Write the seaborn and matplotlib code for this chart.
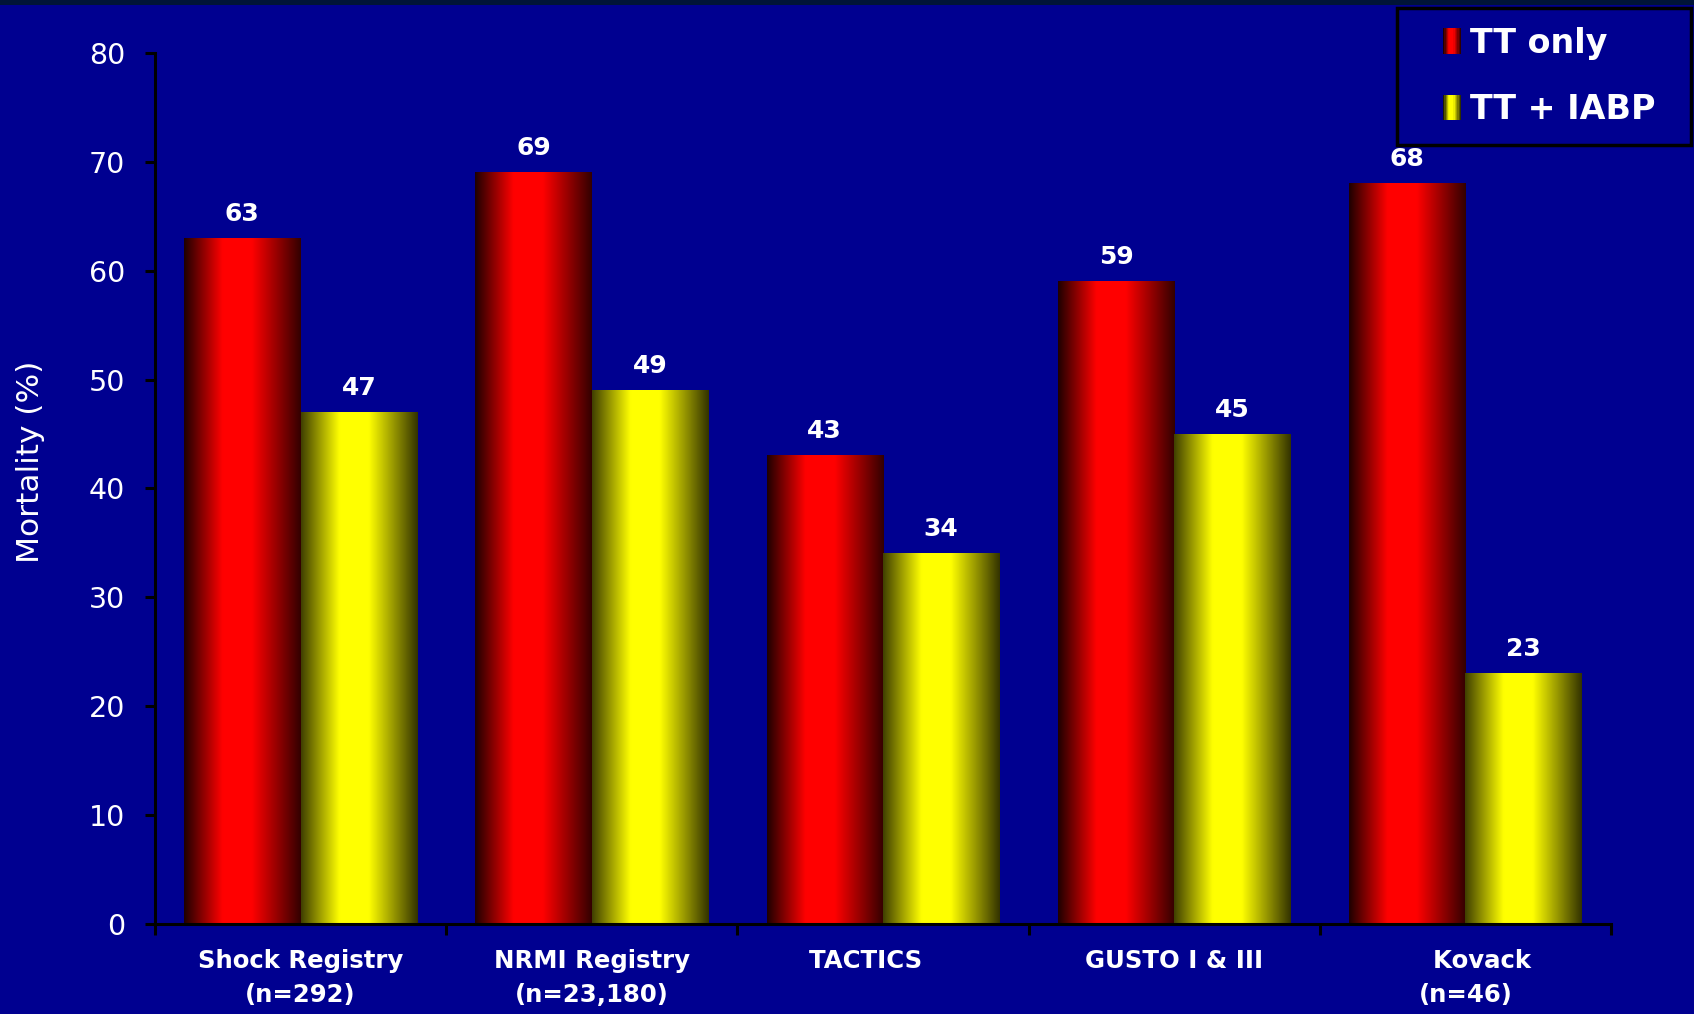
import numpy as np
import pandas as pd
import matplotlib
matplotlib.use("Agg")
import matplotlib.pyplot as plt
import seaborn as sns
from matplotlib.patches import Rectangle
from matplotlib.legend_handler import HandlerBase

# ---- data ----
studies = ["Shock Registry\n(n=292)", "NRMI Registry\n(n=23,180)", "TACTICS    ",
           "GUSTO I & III", "    Kovack\n(n=46)"]
tt_only = [63, 69, 43, 59, 68]
tt_iabp = [47, 49, 34, 45, 23]
series = ["TT only", "TT + IABP"]
y_ticks = [0, 10, 20, 30, 40, 50, 60, 70, 80]

df = pd.DataFrame({
    "study": studies * 2,
    "series": [series[0]] * len(studies) + [series[1]] * len(studies),
    "value": tt_only + tt_iabp,
})

BG = "#000090"
RED = np.array([1.0, 0.0, 0.0])
YELLOW = np.array([1.0, 1.0, 0.0])


def shade_profile(n=256, lo_left=0.12, lo_right=0.18):
    t = np.linspace(0, 1, n)
    return np.interp(t, [0, 0.33, 0.58, 1.0], [lo_left, 1.0, 1.0, lo_right])


def gradient(base, n=256, lo_left=0.12, lo_right=0.18):
    k = shade_profile(n, lo_left, lo_right)
    return np.clip(base[None, :] * k[:, None], 0, 1)


class GradientHandler(HandlerBase):
    def __init__(self, base, **kw):
        super().__init__(**kw)
        self.base = base

    def create_artists(self, legend, orig_handle, xdescent, ydescent,
                       width, height, fontsize, trans):
        n = 14
        cols = gradient(self.base, n)
        arts = []
        for i in range(n):
            r = Rectangle((-xdescent + i * width / n, -ydescent), width / n * 1.05,
                          height, facecolor=cols[i], edgecolor="none",
                          transform=trans)
            arts.append(r)
        return arts


sns.set_theme(style="white")
plt.rcParams["font.family"] = ["DejaVu Sans"]

fig = plt.figure(figsize=(16.94, 10.14), dpi=100, facecolor=BG)
ax = fig.add_axes([0.0915, 0.0888, 0.951 - 0.0915, 0.9477 - 0.0888])
ax.set_facecolor(BG)

# thin dark strip along the top edge
fig.patches.append(Rectangle((0, 1 - 5 / 1014), 1, 5 / 1014, transform=fig.transFigure,
                             facecolor="#001438", edgecolor="none", zorder=0))

sns.barplot(data=df, x="study", y="value", hue="series", hue_order=series,
            palette=["#ff0000", "#ffff00"], width=0.8, saturation=1,
            ax=ax, legend=False, errorbar=None)

# cylinder-style shading on each bar
bases = [RED, YELLOW]
for cont, base in zip(ax.containers, bases):
    grad = gradient(base, lo_left=0.12 if base is RED else 0.25,
                    lo_right=0.2 if base is RED else 0.2)
    for p in cont.patches:
        x0, y0, w, h = p.get_x(), p.get_y(), p.get_width(), p.get_height()
        ax.imshow(grad[None, :, :], extent=[x0, x0 + w, y0, y0 + h],
                  aspect="auto", interpolation="bilinear", zorder=2)
        p.set_facecolor("none")
        p.set_edgecolor("none")
    ax.bar_label(cont, fmt="%d", padding=9, color="white",
                 fontweight="bold", fontsize=18)

ax.set_xlim(-0.5, len(studies) - 0.5)
ax.set_ylim(0, 80)
ax.set_yticks(y_ticks)
ax.set_yticklabels([str(v) for v in y_ticks], fontsize=20.5, color="white")

# group boundaries carry the tick marks, centres carry the labels
ax.set_xticks(np.arange(-0.5, len(studies), 1.0))
ax.set_xticklabels([])
ax.set_xticks(np.arange(len(studies)), minor=True)
ax.set_xticklabels(studies, minor=True, fontsize=17.6, fontweight="bold",
                   color="white", linespacing=1.55)
ax.tick_params(axis="x", which="major", direction="out", length=8, width=2.2,
               color="black", bottom=True)
ax.tick_params(axis="x", which="minor", length=0, pad=18, bottom=True)
ax.tick_params(axis="y", direction="out", length=7.5, width=2.2, color="black",
               left=True, pad=14)

for side in ["top", "right"]:
    ax.spines[side].set_visible(False)
for side in ["left", "bottom"]:
    ax.spines[side].set_visible(True)
    ax.spines[side].set_color("black")
    ax.spines[side].set_linewidth(2.2)
ax.grid(False)

ax.set_xlabel("")
ax.set_ylabel("Mortality (%)", fontsize=22.5, color="white")
ax.yaxis.set_label_coords(-0.0757, 0.531)

# legend inside a framed box at the top right
box_x0, box_y0, box_x1, box_y1 = 1397 / 1694, 1 - 145 / 1014, 1691 / 1694, 1 - 8 / 1014
fig.patches.append(Rectangle((box_x0, box_y0), box_x1 - box_x0, box_y1 - box_y0,
                             transform=fig.transFigure, facecolor=BG,
                             edgecolor="black", linewidth=2.5, zorder=5))
h1 = Rectangle((0, 0), 1, 1)
h2 = Rectangle((0, 0), 1, 1)
leg = fig.legend([h1, h2], series,
                 handler_map={h1: GradientHandler(RED), h2: GradientHandler(YELLOW)},
                 loc="center", bbox_to_anchor=((box_x0 + box_x1) / 2 + 5 / 1694,
                                               (box_y0 + box_y1) / 2),
                 frameon=False, prop={"size": 24, "weight": "bold"},
                 handlelength=0.55, handleheight=0.8, handletextpad=0.25,
                 labelspacing=1.0)
for t in leg.get_texts():
    t.set_color("white")
leg.set_zorder(6)

fig.savefig("out.png", dpi=100, facecolor=BG)
